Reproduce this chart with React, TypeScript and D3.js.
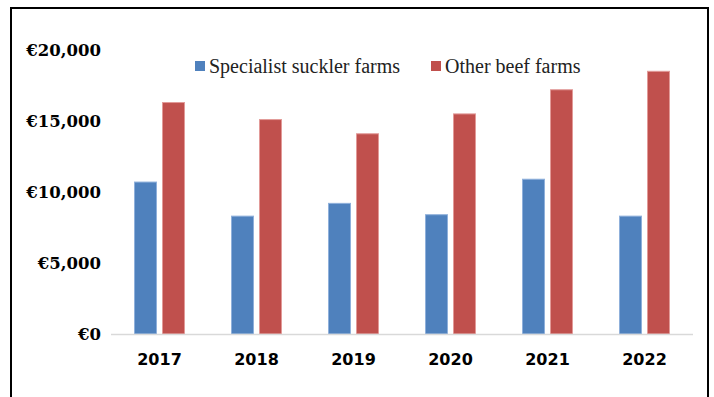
import React from "react";
import * as d3 from "d3";

const years = ["2017", "2018", "2019", "2020", "2021", "2022"];
const specialistSuckler = [10700, 8300, 9200, 8400, 10900, 8300];
const otherBeef = [16300, 15100, 14100, 15500, 17200, 18500];
const yTicks = [0, 5000, 10000, 15000, 20000];
const seriesNames = ["Specialist suckler farms", "Other beef farms"];
const colors = ["#4f81bd", "#c0504d"];
const strokeColors = ["#8fb0db", "#e29a98"];

const W = 714;
const H = 397;
const left = 111;
const right = 693;
const top = 50;
const bottom = 334;

export default function App() {
  const x = d3.scaleBand<string>().domain(years).range([left, right]).paddingInner(0.5).paddingOuter(0.25);
  const y = d3.scaleLinear().domain([0, 20000]).range([bottom, top]);
  const series = [specialistSuckler, otherBeef];
  const fmt = (v: number) => "€" + d3.format(",")(v);
  const barW = 22;
  const gap = 6;

  return (
    <svg width={W} height={H} style={{ position: "absolute", left: 0, top: 0, background: "#fff" }}>
      <rect x={0} y={0} width={W} height={H} fill="#fff" />
      <rect x={11} y={8} width={697} height={H + 10} fill="none" stroke="#000" strokeWidth={2} />
      {yTicks.map((t) => (
        <text
          key={t}
          x={101}
          y={y(t)}
          dy="0.35em"
          textAnchor="end"
          fontFamily="DejaVu Serif"
          fontWeight="bold"
          fontSize={16.5}
          fill="#000"
        >
          {fmt(t)}
        </text>
      ))}
      {years.map((yr, i) => {
        const cx = (x(yr) as number) + x.bandwidth() / 2;
        return (
          <g key={yr}>
            {series.map((s, k) => {
              const bx = k === 0 ? cx - gap / 2 - barW : cx + gap / 2;
              return (
                <rect
                  key={k}
                  x={bx}
                  y={y(s[i])}
                  width={barW}
                  height={bottom - y(s[i])}
                  fill={colors[k]}
                  stroke={strokeColors[k]}
                  strokeWidth={1}
                />
              );
            })}
            <text
              x={cx}
              y={365}
              textAnchor="middle"
              fontFamily="DejaVu Sans"
              fontWeight="bold"
              fontSize={16}
              fill="#000"
            >
              {yr}
            </text>
          </g>
        );
      })}
      <line x1={left} x2={right} y1={bottom + 0.5} y2={bottom + 0.5} stroke="#d9d9d9" strokeWidth={1.5} />
      {seriesNames.map((n, k) => {
        const lx = k === 0 ? 195 : 431;
        return (
          <g key={n}>
            <rect x={lx} y={61} width={10} height={10} fill={colors[k]} />
            <text x={lx + 14} y={73} fontFamily="Liberation Serif" fontSize={20} fill="#222">
              {n}
            </text>
          </g>
        );
      })}
    </svg>
  );
}
